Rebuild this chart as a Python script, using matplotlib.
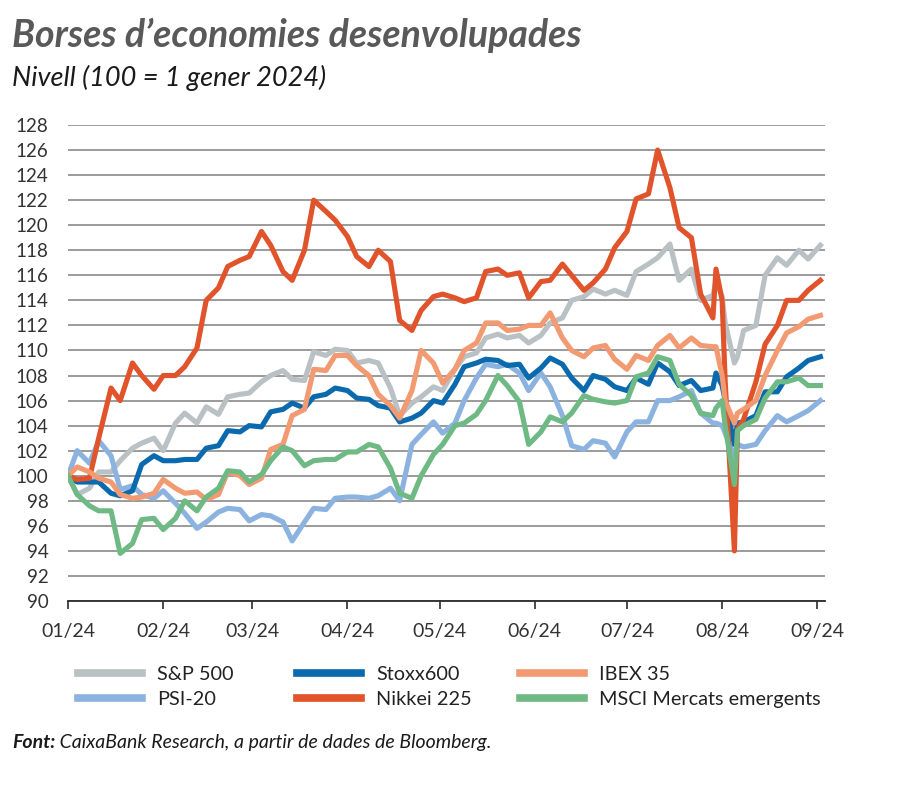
import matplotlib
matplotlib.use("Agg")
import matplotlib.pyplot as plt
import matplotlib.dates as mdates
from matplotlib.lines import Line2D
import pandas as pd

plt.rcParams['font.family'] = ['Lato', 'DejaVu Sans']

# days since 1 Jan 2024 (index = 100 on that date)
days = [0, 3, 7, 10, 14, 17, 21, 24, 28, 31,
        35, 38, 42, 45, 49, 52, 56, 59, 63, 66,
        70, 73, 77, 80, 84, 87, 91, 94, 98, 101,
        105, 108, 112, 115, 119, 122, 126, 129, 133, 136,
        140, 143, 147, 150, 154, 157, 161, 164, 168, 171,
        175, 178, 182, 185, 189, 192, 196, 199, 203, 206,
        210, 211, 213, 214, 217, 218, 220, 224, 227, 231,
        234, 238, 241, 245]

sp500 = [100.0, 98.5, 99.0, 100.3, 100.3, 101.2, 102.2, 102.6, 103.0, 102.0,
         104.2, 105.0, 104.2, 105.5, 104.9, 106.3, 106.5, 106.6, 107.5, 108.0,
         108.4, 107.7, 107.6, 109.9, 109.6, 110.1, 110.0, 109.0, 109.2, 109.0,
         107.0, 104.8, 105.8, 106.3, 107.1, 106.8, 108.5, 109.5, 109.8, 111.0,
         111.3, 111.0, 111.2, 110.6, 111.2, 112.2, 112.6, 114.0, 114.3, 114.9,
         114.5, 114.8, 114.4, 116.3, 116.9, 117.4, 118.5, 115.6, 116.5, 114.0,
         114.4, 115.5, 114.3, 112.2, 109.0, 109.5, 111.6, 112.0, 116.0, 117.4,
         116.8, 118.0, 117.3, 118.4]

psi20 = [100.0, 102.0, 101.0, 102.8, 101.6, 98.9, 99.2, 98.5, 98.2, 98.8,
         97.8, 97.0, 95.8, 96.3, 97.1, 97.4, 97.3, 96.4, 96.9, 96.8,
         96.3, 94.8, 96.3, 97.4, 97.3, 98.2, 98.3, 98.3, 98.2, 98.4,
         99.0, 98.0, 102.5, 103.3, 104.3, 103.4, 104.2, 106.0, 107.8, 108.9,
         108.7, 108.9, 108.2, 106.8, 108.2, 107.1, 104.8, 102.4, 102.1, 102.8,
         102.6, 101.5, 103.5, 104.3, 104.3, 106.0, 106.0, 106.3, 106.8, 105.0,
         104.2, 104.2, 104.0, 103.4, 101.5, 102.5, 102.3, 102.5, 103.6, 104.8,
         104.3, 104.8, 105.2, 106.0]

stoxx600 = [100.0, 99.5, 99.5, 99.5, 98.6, 98.4, 98.8, 100.9, 101.6, 101.2,
            101.2, 101.3, 101.3, 102.2, 102.4, 103.6, 103.5, 104.0, 103.9, 105.1,
            105.3, 105.8, 105.4, 106.3, 106.5, 107.0, 106.8, 106.2, 106.1, 105.6,
            105.4, 104.3, 104.6, 105.0, 106.0, 105.8, 107.3, 108.7, 109.0, 109.3,
            109.2, 108.8, 108.9, 107.8, 108.6, 109.4, 108.9, 107.8, 106.8, 108.0,
            107.7, 107.1, 106.8, 107.8, 107.3, 109.0, 108.3, 107.2, 107.6, 106.8,
            107.0, 108.2, 107.2, 106.0, 102.5, 104.2, 104.3, 104.8, 106.7, 106.7,
            107.9, 108.6, 109.2, 109.5]

nikkei = [100.0, 99.7, 99.8, 103.0, 107.0, 106.0, 109.0, 108.0, 106.9, 108.0,
          108.0, 108.7, 110.2, 114.0, 115.0, 116.7, 117.2, 117.5, 119.5, 118.4,
          116.3, 115.6, 118.0, 122.0, 121.1, 120.4, 119.1, 117.5, 116.7, 118.0,
          117.1, 112.4, 111.6, 113.2, 114.3, 114.5, 114.2, 113.9, 114.2, 116.3,
          116.5, 116.0, 116.2, 114.2, 115.5, 115.6, 116.9, 116.0, 114.8, 115.4,
          116.5, 118.2, 119.5, 122.1, 122.5, 126.0, 123.0, 119.8, 119.0, 114.5,
          112.6, 116.5, 114.0, 107.5, 94.0, 103.7, 104.5, 107.5, 110.5, 112.0,
          114.0, 114.0, 114.8, 115.6]

ibex35 = [100.0, 100.7, 100.3, 99.8, 99.5, 98.5, 98.2, 98.3, 98.6, 99.7,
          99.0, 98.6, 98.7, 98.1, 98.5, 100.3, 100.0, 99.3, 99.8, 102.1,
          102.5, 104.8, 105.3, 108.5, 108.4, 109.6, 109.6, 108.8, 108.0, 106.5,
          105.6, 104.6, 106.8, 110.0, 109.0, 107.4, 108.5, 110.0, 110.6, 112.2,
          112.2, 111.6, 111.7, 112.0, 112.0, 113.0, 111.0, 110.0, 109.5, 110.2,
          110.4, 109.3, 108.5, 109.6, 109.2, 110.4, 111.2, 110.2, 111.0, 110.4,
          110.3, 110.3, 108.0, 106.0, 104.2, 105.0, 105.3, 106.0, 108.0, 110.0,
          111.4, 111.9, 112.5, 112.8]

msci_em = [100.0, 98.5, 97.6, 97.2, 97.2, 93.8, 94.6, 96.5, 96.6, 95.7,
           96.6, 98.0, 97.2, 98.3, 99.0, 100.4, 100.3, 99.5, 100.1, 101.2,
           102.3, 102.0, 100.8, 101.2, 101.3, 101.3, 101.9, 101.9, 102.5, 102.3,
           100.6, 98.6, 98.2, 100.0, 101.7, 102.5, 104.0, 104.2, 104.9, 106.0,
           108.0, 107.2, 105.9, 102.5, 103.5, 104.7, 104.3, 105.0, 106.4, 106.1,
           105.9, 105.8, 106.0, 107.9, 108.2, 109.5, 109.2, 107.3, 106.4, 105.0,
           104.8, 105.4, 106.0, 104.0, 99.3, 103.6, 104.0, 104.5, 106.2, 107.5,
           107.5, 107.8, 107.2, 107.2]

labels = ['S&P 500', 'PSI-20', 'Stoxx600', 'Nikkei 225', 'IBEX 35', 'MSCI Mercats emergents']
colors = ['#b9c1c4', '#8cb3e0', '#0b69ad', '#e0532b', '#f29a72', '#6fba84']
series = [sp500, psi20, stoxx600, nikkei, ibex35, msci_em]
draw_order = [0, 1, 2, 4, 3, 5]

dates = pd.Timestamp('2024-01-01') + pd.to_timedelta(days, unit='D')

W, H = 900, 793
fig = plt.figure(figsize=(W / 100, H / 100), dpi=100)
ax = fig.add_axes([68 / W, 1 - 601 / H, (825 - 68) / W, (601 - 125) / H])

for i in draw_order:
    ax.plot(dates, series[i], color=colors[i], lw=3.7, solid_joinstyle='round', zorder=3 + i)

ax.set_ylim(90, 128)
ax.set_yticks(range(90, 129, 2))
ax.set_xlim(pd.Timestamp('2024-01-01'), pd.Timestamp('2024-01-01') + pd.Timedelta(days=246.5))
ax.xaxis.set_major_locator(mdates.MonthLocator())
ax.xaxis.set_major_formatter(mdates.DateFormatter('%m/%y'))

ax.grid(axis='y', color='#8a8a8a', lw=1.2, zorder=1)
ax.grid(axis='x', visible=False)
for s in ['top', 'right', 'left']:
    ax.spines[s].set_visible(False)
ax.spines['bottom'].set_color('#2b2b2b')
ax.spines['bottom'].set_linewidth(1.3)
ax.spines['bottom'].set_zorder(10)

ax.tick_params(axis='y', length=0, pad=14, labelsize=13.5, labelcolor='#333333')
ax.tick_params(axis='x', direction='out', length=6, width=1.2, color='#2b2b2b',
               pad=10, labelsize=14, labelcolor='#333333')

# legend, three columns of two entries
cols_x = [78, 297, 520]
for c in range(3):
    hs = [Line2D([], [], color=colors[2 * c + r], lw=5.5) for r in range(2)]
    fig.legend(hs, labels[2 * c:2 * c + 2], loc='upper left',
               bbox_to_anchor=(cols_x[c] / W, 1 - 666 / H), frameon=False,
               handlelength=3.2, handletextpad=0.8, labelspacing=0.4,
               borderpad=0, borderaxespad=0, fontsize=14.3, labelcolor='#222222')

fig.text(12 / W, 1 - 47 / H, 'Borses d’economies desenvolupades', fontsize=27,
         fontweight='bold', fontstyle='italic', color='#595959', va='baseline')
fig.text(12 / W, 1 - 86 / H, 'Nivell (100 = 1 gener 2024)', fontsize=19.5,
         fontstyle='italic', color='#1a1a1a', va='baseline')

src = fig.text(12 / W, 1 - 748 / H, 'Font:', fontsize=14, fontweight='bold',
               fontstyle='italic', color='#1a1a1a', va='baseline')
ax.annotate(' CaixaBank Research, a partir de dades de Bloomberg.', xy=(1, 0),
            xycoords=src, fontsize=14, fontstyle='italic', color='#1a1a1a',
            va='bottom', ha='left', annotation_clip=False)

fig.savefig('out.png', dpi=100)
